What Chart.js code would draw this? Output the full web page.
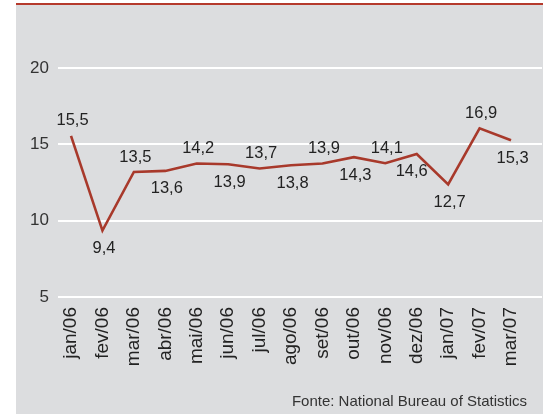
<!DOCTYPE html>
<html>
<head>
<meta charset="utf-8">
<script src="https://cdn.jsdelivr.net/npm/chart.js@4"></script>
<style>
html,body{margin:0;padding:0;background:#fff;}
canvas{display:block;}
</style>
</head>
<body>
<canvas id="c" width="548" height="414"></canvas>
<script>
const categories = ['jan/06','fev/06','mar/06','abr/06','mai/06','jun/06','jul/06','ago/06','set/06','out/06','nov/06','dez/06','jan/07','fev/07','mar/07'];
const values = [15.55, 9.35, 13.19, 13.26, 13.74, 13.70, 13.42, 13.63, 13.74, 14.16, 13.76, 14.37, 12.38, 16.05, 15.27];
const valueLabels = ['15,5','9,4','13,5','13,6','14,2','13,9','13,7','13,8','13,9','14,3','14,1','14,6','12,7','16,9','15,3'];
const labelSide = ['above','below','above','below','above','below','above','below','above','below','above','below','below','above','below'];
const yTicks = [5, 10, 15, 20];
const sourceText = 'Fonte: National Bureau of Statistics';

const FONT = '"Liberation Sans", Arial, Helvetica, sans-serif';

const bgPlugin = {
  id: 'bg',
  beforeDraw(chart) {
    const ctx = chart.ctx;
    ctx.save();
    ctx.fillStyle = '#dcdddf';
    ctx.fillRect(16, 3, 527, 411);
    ctx.fillStyle = '#b53a2c';
    ctx.fillRect(16, 3, 527, 2);
    ctx.restore();
  },
  afterDraw(chart) {
    const ctx = chart.ctx;
    ctx.save();
    ctx.font = '15px ' + FONT;
    ctx.fillStyle = '#333';
    ctx.textAlign = 'right';
    ctx.textBaseline = 'alphabetic';
    ctx.fillText(sourceText, 527, 406);
    ctx.restore();
  }
};

const labelPlugin = {
  id: 'vlabels',
  afterDatasetsDraw(chart) {
    const ctx = chart.ctx;
    const meta = chart.getDatasetMeta(0);
    ctx.save();
    ctx.font = '16.5px ' + FONT;
    ctx.fillStyle = '#222';
    ctx.textAlign = 'center';
    ctx.textBaseline = 'middle';
    meta.data.forEach((pt, i) => {
      const above = labelSide[i] === 'above';
      let dx = 1.5;
      if (i === 11) dx = -5;
      const dy = above ? -15 : 18;
      ctx.fillText(valueLabels[i], pt.x + dx, pt.y + dy);
    });
    ctx.restore();
  }
};

new Chart(document.getElementById('c'), {
  type: 'line',
  data: {
    datasets: [{
      data: values.map((v, i) => ({x: i, y: v})),
      borderColor: '#a8392b',
      borderWidth: 2.6,
      pointRadius: 0,
      tension: 0,
      fill: false
    }]
  },
  options: {
    responsive: false,
    animation: false,
    events: [],
    layout: {padding: {top: 68, right: 6, left: 0, bottom: 0}},
    plugins: {legend: {display: false}, tooltip: {enabled: false}, title: {display: false}},
    scales: {
      x: {
        type: 'linear',
        min: -0.414,
        max: 14.986,
        afterBuildTicks(scale) { scale.ticks = categories.map((c, i) => ({value: i})); },
        afterFit(scale) { scale.height = 117; },
        grid: {display: false, drawTicks: false},
        border: {display: false},
        ticks: {
          autoSkip: false,
          minRotation: 90,
          maxRotation: 90,
          padding: 10,
          color: '#222',
          font: {family: FONT, size: 19},
          callback: (v) => categories[v]
        }
      },
      y: {
        min: 5,
        max: 20,
        afterBuildTicks(scale) { scale.ticks = yTicks.map(v => ({value: v})); },
        afterFit(scale) { scale.width = 58; },
        grid: {color: '#ffffff', lineWidth: 2, drawTicks: false},
        border: {display: false},
        ticks: {
          padding: 9,
          color: '#333',
          font: {family: FONT, size: 17}
        }
      }
    }
  },
  plugins: [bgPlugin, labelPlugin]
});
</script>
</body>
</html>
